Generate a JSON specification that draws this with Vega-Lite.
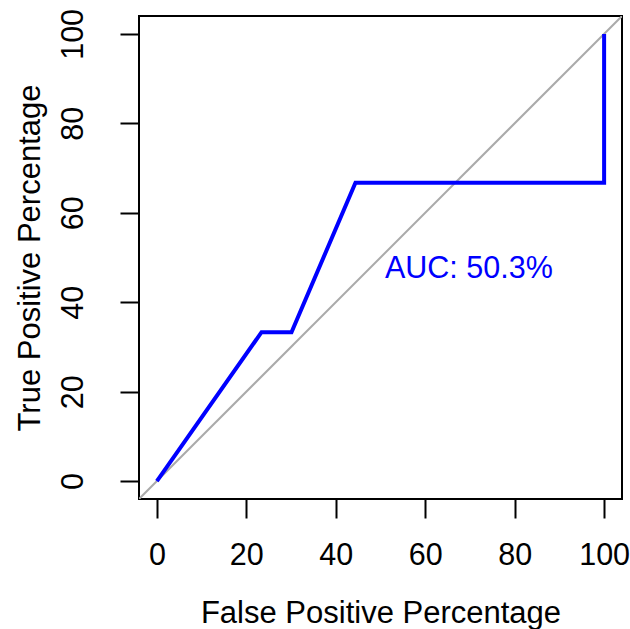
{
  "$schema": "https://vega.github.io/schema/vega-lite/v6.json",
  "autosize": "none",
  "padding": {"left": 139, "top": 16, "right": 8, "bottom": 130},
  "width": 483,
  "height": 483,
  "background": "white",
  "config": {
    "view": {"stroke": "black", "strokeWidth": 2},
    "font": "Liberation Sans",
    "axis": {
      "grid": false,
      "domain": false,
      "tickColor": "black",
      "tickWidth": 2,
      "tickSize": 19,
      "labelFont": "Liberation Sans",
      "labelFontSize": 30.5,
      "labelColor": "black",
      "titleFont": "Liberation Sans",
      "titleFontSize": 31,
      "titleFontWeight": "normal",
      "titleColor": "black"
    }
  },
  "layer": [
    {
      "data": {"values": [{"fpr": -4, "tpr": -4}, {"fpr": 104, "tpr": 104}]},
      "mark": {"type": "line", "color": "#AAAAAA", "strokeWidth": 2, "clip": true},
      "encoding": {
        "x": {
          "field": "fpr", "type": "quantitative",
          "scale": {"domain": [-4, 104], "nice": false, "zero": false},
          "axis": {
            "values": [0, 20, 40, 60, 80, 100],
            "title": "False Positive Percentage",
            "labelBaseline": "alphabetic",
            "labelPadding": 46,
            "titleBaseline": "alphabetic",
            "titleY": 123,
            "titleX": 241.5
          }
        },
        "y": {
          "field": "tpr", "type": "quantitative",
          "scale": {"domain": [-4, 104], "nice": false, "zero": false},
          "axis": {
            "values": [0, 20, 40, 60, 80, 100],
            "title": "True Positive Percentage",
            "labelAngle": 270,
            "labelAlign": "center",
            "labelBaseline": "alphabetic",
            "labelPadding": 38,
            "titleAngle": 270,
            "titleBaseline": "alphabetic",
            "titleAlign": "center",
            "titleX": -100,
            "titleY": 241.5
          }
        }
      }
    },
    {
      "data": {"values": [
        {"i": 1, "fpr": 0, "tpr": 0},
        {"i": 2, "fpr": 23.4, "tpr": 33.3},
        {"i": 3, "fpr": 30.1, "tpr": 33.3},
        {"i": 4, "fpr": 44.4, "tpr": 66.7},
        {"i": 5, "fpr": 100, "tpr": 66.7},
        {"i": 6, "fpr": 100, "tpr": 100}
      ]},
      "mark": {"type": "line", "color": "#0000FF", "strokeWidth": 4, "strokeJoin": "miter"},
      "encoding": {
        "x": {"field": "fpr", "type": "quantitative"},
        "y": {"field": "tpr", "type": "quantitative"},
        "order": {"field": "i", "type": "quantitative"}
      }
    },
    {
      "data": {"values": [{"fpr": 51, "tpr": 45.4, "label": "AUC: 50.3%"}]},
      "mark": {"type": "text", "color": "#0000FF", "fontSize": 30.5, "font": "Liberation Sans", "align": "left", "baseline": "alphabetic"},
      "encoding": {
        "x": {"field": "fpr", "type": "quantitative"},
        "y": {"field": "tpr", "type": "quantitative"},
        "text": {"field": "label"}
      }
    }
  ]
}
